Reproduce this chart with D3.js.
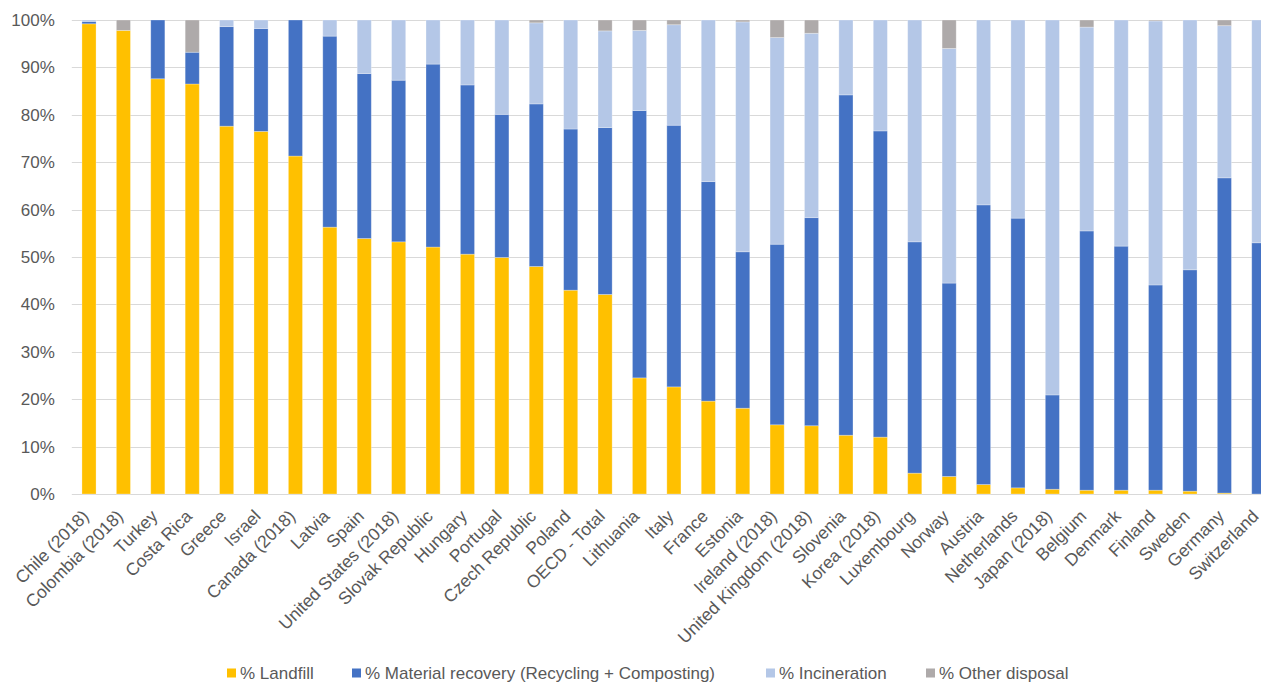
<!DOCTYPE html>
<html>
<head>
<meta charset="utf-8">
<script src="https://cdn.jsdelivr.net/npm/d3@7"></script>
<style>
  html, body { margin: 0; padding: 0; background: #fff; }
  svg { display: block; font-family: "Liberation Sans", Arial, sans-serif; }
</style>
</head>
<body>
<svg id="chart" width="1261" height="682"></svg>
<script>
// Municipal waste treatment shares by country (%)
const categories = [
  "Chile (2018)", "Colombia (2018)", "Turkey", "Costa Rica", "Greece", "Israel",
  "Canada (2018)", "Latvia", "Spain", "United States (2018)", "Slovak Republic",
  "Hungary", "Portugal", "Czech Republic", "Poland", "OECD - Total", "Lithuania",
  "Italy", "France", "Estonia", "Ireland (2018)", "United Kingdom (2018)",
  "Slovenia", "Korea (2018)", "Luxembourg", "Norway", "Austria", "Netherlands",
  "Japan (2018)", "Belgium", "Denmark", "Finland", "Sweden", "Germany", "Switzerland"
];
const landfill = [
  99.2, 97.8, 87.6, 86.5, 77.6, 76.5, 71.3, 56.3, 53.9, 53.2, 52.1,
  50.6, 49.9, 48.0, 43.0, 42.1, 24.5, 22.6, 19.6, 18.1, 14.6, 14.4,
  12.4, 12.0, 4.4, 3.7, 2.0, 1.3, 1.0, 0.8, 0.8, 0.8, 0.6, 0.2, 0.0
];
const recovery = [
  0.5, 0.0, 12.4, 6.7, 21.0, 21.7, 28.7, 40.3, 34.8, 34.1, 38.6,
  35.7, 30.2, 34.3, 34.0, 35.2, 56.4, 55.2, 46.3, 33.0, 38.1, 43.9,
  71.8, 64.6, 48.8, 40.8, 59.0, 56.9, 19.9, 54.7, 51.5, 43.3, 46.7, 66.5, 53.0
];
const incineration = [
  0.3, 0.0, 0.0, 0.0, 1.4, 1.8, 0.0, 3.4, 11.3, 12.7, 9.3,
  13.7, 19.9, 17.1, 23.0, 20.4, 16.9, 21.2, 34.1, 48.5, 43.6, 38.9,
  15.8, 23.4, 46.8, 49.5, 39.0, 41.8, 79.1, 43.0, 47.7, 55.7, 52.7, 32.1, 47.0
];
const other = [
  0.0, 2.2, 0.0, 6.8, 0.0, 0.0, 0.0, 0.0, 0.0, 0.0, 0.0,
  0.0, 0.0, 0.6, 0.0, 2.3, 2.2, 1.0, 0.0, 0.4, 3.7, 2.8,
  0.0, 0.0, 0.0, 6.0, 0.0, 0.0, 0.0, 1.5, 0.0, 0.2, 0.0, 1.2, 0.0
];
const seriesNames = [
  "% Landfill",
  "% Material recovery (Recycling + Composting)",
  "% Incineration",
  "% Other disposal"
];
const yTicks = [0, 10, 20, 30, 40, 50, 60, 70, 80, 90, 100];

const colors = ["#FFC000", "#4472C4", "#B4C7E7", "#AEAAAA"];
const keys = ["landfill", "recovery", "incineration", "other"];

const rows = categories.map((c, i) => ({
  country: c,
  landfill: landfill[i],
  recovery: recovery[i],
  incineration: incineration[i],
  other: other[i]
}));

const svg = d3.select("#chart");
const plot = { left: 71.8, right: 1276, top: 20, bottom: 494 };
const textColor = "#595959";
const fontSize = 17;

const x = d3.scaleBand()
  .domain(categories)
  .range([plot.left, plot.right])
  .paddingInner(0.59)
  .paddingOuter(0.295);

const y = d3.scaleLinear()
  .domain([0, 100])
  .range([plot.bottom, plot.top]);

// Horizontal gridlines
svg.append("g")
  .selectAll("line")
  .data(yTicks)
  .join("line")
  .attr("x1", plot.left)
  .attr("x2", plot.right)
  .attr("y1", d => Math.round(y(d)) + 0.5)
  .attr("y2", d => Math.round(y(d)) + 0.5)
  .attr("stroke", "#D9D9D9")
  .attr("stroke-width", 1);

// Y axis labels
const yAxis = svg.append("g")
  .attr("transform", `translate(${plot.left},0)`)
  .call(d3.axisLeft(y).tickValues(yTicks).tickFormat(d => d + "%").tickSize(0).tickPadding(17));
yAxis.select(".domain").remove();
yAxis.selectAll("text")
  .attr("fill", textColor)
  .style("font-size", fontSize + "px")
  .style("font-family", '"Liberation Sans", Arial, sans-serif');

// Stacked bars
const stacked = d3.stack().keys(keys)(rows);
svg.append("g")
  .selectAll("g")
  .data(stacked)
  .join("g")
  .attr("fill", (d, i) => colors[i])
  .selectAll("rect")
  .data(d => d)
  .join("rect")
  .attr("x", d => x(d.data.country))
  .attr("width", x.bandwidth())
  .attr("y", d => y(d[1]))
  .attr("height", d => Math.max(0, y(d[0]) - y(d[1])))
  .attr("stroke", "#ffffff")
  .attr("stroke-opacity", 0.35)
  .attr("stroke-width", 0.8);

// Rotated category labels
const xAxis = svg.append("g")
  .attr("transform", `translate(0,${plot.bottom})`)
  .call(d3.axisBottom(x).tickSize(0).tickPadding(0));
xAxis.select(".domain").remove();
xAxis.selectAll("text")
  .attr("fill", textColor)
  .style("font-size", "17.5px")
  .style("font-family", '"Liberation Sans", Arial, sans-serif')
  .attr("text-anchor", "end")
  .attr("dy", "0.35em")
  .attr("y", 0)
  .attr("transform", "translate(-3.5,19) rotate(-45)");

// Legend
const legendX = [227, 352, 766, 926];
const legend = svg.append("g")
  .selectAll("g")
  .data(seriesNames)
  .join("g")
  .attr("transform", (d, i) => `translate(${legendX[i]},673)`);
legend.append("rect")
  .attr("x", 0)
  .attr("y", -4.5)
  .attr("width", 9)
  .attr("height", 9)
  .attr("fill", (d, i) => colors[i]);
legend.append("text")
  .attr("x", 13)
  .attr("y", 0)
  .attr("dy", "0.35em")
  .attr("fill", textColor)
  .style("font-size", fontSize + "px")
  .text(d => d);
</script>
</body>
</html>
